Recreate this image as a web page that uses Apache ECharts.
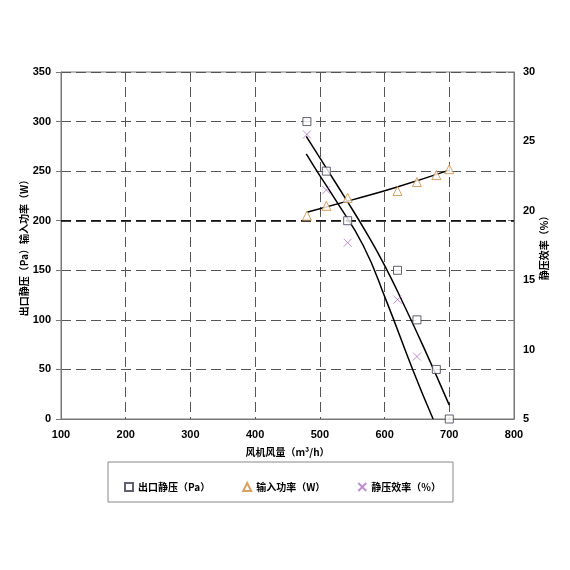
<!DOCTYPE html>
<html>
<head>
<meta charset="utf-8">
<script src="https://cdn.jsdelivr.net/npm/echarts@6/dist/echarts.min.js"></script>
<style>
  html, body { margin: 0; padding: 0; background: #fff; }
  #grafica { width: 570px; height: 570px; }
</style>
</head>
<body>
<div id="grafica"></div>
<script>
// puntos medidos
const flow = [480, 510, 543, 620, 650, 680, 700];
const pressure = [300, 250, 200, 150, 100, 50, 0];
const power = [205, 215, 223, 230, 239, 246, 252];
const effFlow = [480, 510, 543, 620, 650];
const efficiency = [25.5, 21.5, 17.7, 13.6, 9.5];

// lineas de tendencia
const pressureFitX = [479, 511, 540, 570, 600, 630, 660, 700];
const pressureFitY = [285, 252, 222, 190, 155, 115, 73, 14];
const powerFitX = [480, 550, 617, 700];
const powerFitY = [208.5, 221, 233.5, 251];
const effFitX = [479, 495, 524, 567, 602, 644, 675];
const effFitY = [24.1, 22.9, 20.8, 17.5, 13.6, 8.5, 5.0];

const names = ['出口静压（Pa）', '输入功率（W）', '静压效率（%）'];

function pares(xs, ys) {
  return xs.map(function (x, i) { return [x, ys[i]]; });
}

var dom = document.getElementById('grafica');
var myChart = echarts.init(dom, null, { renderer: 'canvas' });

var labelFont = { color: '#000', fontSize: 11, fontWeight: 'bold', fontFamily: 'Liberation Sans' };
var nameFont = { color: '#000', fontSize: 10, fontWeight: 'bold', fontFamily: 'Noto Sans CJK SC' };
var dashed = { show: true, lineStyle: { color: '#555', type: [10, 5], width: 1 } };

var option = {
  animation: false,
  backgroundColor: '#fff',
  grid: {
    left: 61, right: 56, top: 72, bottom: 151,
    show: true, borderColor: '#777', borderWidth: 1, backgroundColor: 'transparent'
  },
  graphic: [{
    type: 'rect',
    shape: { x: 108, y: 462, width: 345, height: 40 },
    style: { fill: 'none', stroke: '#888', lineWidth: 1 }
  }],
  legend: {
    left: 119, top: 477,
    itemWidth: 8, itemHeight: 8, itemGap: 32,
    textStyle: { color: '#000', fontSize: 10, fontWeight: 'bold', fontFamily: 'Noto Sans CJK SC' },
    data: names
  },
  xAxis: {
    type: 'value', min: 100, max: 800, interval: 100,
    name: '风机风量（m³/h）', nameLocation: 'middle', nameGap: 28, nameMoveOverlap: false,
    nameTextStyle: nameFont,
    axisLine: { lineStyle: { color: '#777' } },
    axisTick: { show: false },
    axisLabel: Object.assign({ margin: 10 }, labelFont),
    splitLine: dashed
  },
  yAxis: [{
    type: 'value', min: 0, max: 350, interval: 50, position: 'left',
    name: '出口静压（Pa）输入功率（W）', nameLocation: 'middle', nameGap: 32, nameRotate: 90,
    nameMoveOverlap: false,
    nameTextStyle: nameFont,
    axisLine: { show: true, lineStyle: { color: '#777' } },
    axisTick: { show: true, inside: false, length: 5, lineStyle: { color: '#777' } },
    axisLabel: Object.assign({ margin: 10 }, labelFont),
    splitLine: dashed
  }, {
    type: 'value', min: 5, max: 30, interval: 5, position: 'right',
    name: '静压效率（%）', nameLocation: 'middle', nameGap: 25, nameRotate: 90,
    nameMoveOverlap: false,
    nameTextStyle: nameFont,
    axisLine: { show: true, lineStyle: { color: '#777' } },
    axisTick: { show: false },
    axisLabel: Object.assign({ margin: 9 }, labelFont),
    splitLine: { show: false }
  }, {
    type: 'value', min: 0, max: 350, interval: 50, position: 'right',
    axisLine: { show: false },
    axisTick: { show: true, inside: true, length: 6, lineStyle: { color: '#777' } },
    axisLabel: { show: false },
    splitLine: { show: false }
  }],
  series: [{
    name: names[0], type: 'scatter', yAxisIndex: 0,
    symbol: 'rect', symbolSize: 8,
    itemStyle: { color: '#fff', borderColor: '#3a3a50', borderWidth: 1 },
    data: pares(flow, pressure), z: 5
  }, {
    name: names[1], type: 'scatter', yAxisIndex: 0,
    symbol: 'triangle', symbolSize: 9,
    itemStyle: { color: '#fff', borderColor: '#d08a3a', borderWidth: 1 },
    data: pares(flow, power), z: 5
  }, {
    name: names[2], type: 'scatter', yAxisIndex: 1,
    symbol: 'path://M0,0L10,10M10,0L0,10', symbolSize: 8,
    itemStyle: { color: 'rgba(0,0,0,0)', borderColor: '#b070c8', borderWidth: 1 },
    data: pares(effFlow, efficiency), z: 5
  }, {
    type: 'line', yAxisIndex: 0, smooth: true, showSymbol: false, silent: true,
    lineStyle: { color: '#000', width: 1.5 },
    data: pares(pressureFitX, pressureFitY),
    markLine: {
      silent: true, symbol: 'none', label: { show: false },
      lineStyle: { color: '#000', type: [10, 5], width: 1.5 },
      data: [{ yAxis: 200 }]
    }
  }, {
    type: 'line', yAxisIndex: 0, smooth: true, showSymbol: false, silent: true,
    lineStyle: { color: '#000', width: 1.5 },
    data: pares(powerFitX, powerFitY)
  }, {
    type: 'line', yAxisIndex: 1, smooth: true, showSymbol: false, silent: true,
    lineStyle: { color: '#000', width: 1.5 },
    data: pares(effFitX, effFitY)
  }]
};

myChart.setOption(option);
window.addEventListener('resize', myChart.resize);
</script>
</body>
</html>
